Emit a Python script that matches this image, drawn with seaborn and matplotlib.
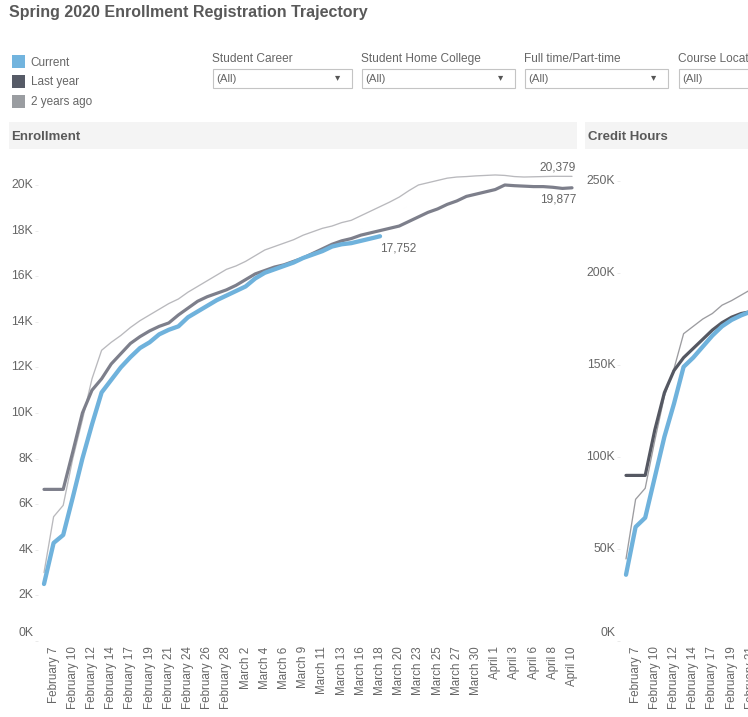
import matplotlib
matplotlib.use("Agg")
import matplotlib.pyplot as plt
from matplotlib.patches import Rectangle
from matplotlib.transforms import ScaledTranslation
import seaborn as sns
import pandas as pd

sns.set_theme(style="white")
plt.rcParams['font.family'] = ['Liberation Sans', 'DejaVu Sans']

tick_labels = ["February 7", "February 10", "February 12", "February 14", "February 17", "February 19",
               "February 21", "February 24", "February 26", "February 28", "March 2", "March 4", "March 6",
               "March 9", "March 11", "March 13", "March 16", "March 18", "March 20", "March 23", "March 25",
               "March 27", "March 30", "April 1", "April 3", "April 6", "April 8", "April 10"]

enroll_current = [2.5, 4.3, 4.65, 6.3, 8.0, 9.5, 10.9, 11.45, 12.0, 12.45, 12.85, 13.1, 13.45, 13.65, 13.8, 14.2,
                  14.45, 14.7, 14.95, 15.15, 15.35, 15.55, 15.9, 16.15, 16.3, 16.45, 16.6, 16.8, 16.95, 17.1,
                  17.3, 17.4, 17.45, 17.55, 17.65, 17.752]
enroll_last = [6.65, 6.65, 6.65, 8.3, 10.0, 11.0, 11.5, 12.15, 12.6, 13.05, 13.35, 13.6, 13.8, 13.95, 14.3, 14.6,
               14.9, 15.1, 15.25, 15.4, 15.6, 15.85, 16.1, 16.25, 16.4, 16.5, 16.65, 16.8, 17.0, 17.2, 17.4,
               17.55, 17.65, 17.8, 17.9, 18.0, 18.1, 18.2, 18.4, 18.6, 18.8, 18.95, 19.15, 19.3, 19.5, 19.6,
               19.7, 19.8, 20.0, 19.97, 19.95, 19.93, 19.93, 19.9, 19.85, 19.877]
enroll_2y = [3.0, 5.45, 5.95, 8.0, 9.7, 11.5, 12.75, 13.1, 13.4, 13.75, 14.05, 14.3, 14.55, 14.8, 15.0, 15.3,
             15.55, 15.8, 16.05, 16.3, 16.45, 16.65, 16.9, 17.15, 17.3, 17.45, 17.6, 17.8, 17.95, 18.1, 18.2,
             18.35, 18.45, 18.65, 18.85, 19.05, 19.25, 19.47, 19.75, 20.0, 20.1, 20.2, 20.3, 20.35, 20.37,
             20.4, 20.42, 20.44, 20.42, 20.37, 20.35, 20.36, 20.37, 20.38, 20.38, 20.379]

credit_current = [36, 62, 67, 89, 111, 129, 149, 154, 160, 166, 171, 174.5, 177, 179]
credit_last = [90, 90, 90, 114.7, 135, 147, 154, 159, 164, 169, 173, 176, 178, 179]
credit_2y = [44.6, 77, 83, 109, 133, 148, 167, 171, 175, 178, 182.5, 185, 188, 191]

legend_labels = ["Current", "Last year", "2 years ago"]
legend_colors = ["#72B4DE", "#565B67", "#9A9DA1"]
filter_labels = ["Student Career", "Student Home College", "Full time/Part-time", "Course Location"]
enroll_ticks = [0, 2, 4, 6, 8, 10, 12, 14, 16, 18, 20]
credit_ticks = [0, 50, 100, 150, 200, 250]

W, H = 748, 717
TXT = "#666666"
FS = 8.6
fig = plt.figure(figsize=(W / 100, H / 100), dpi=100, facecolor="white")


def fx(p):
    return p / W


def fy(p):
    return 1 - p / H


def panel(left, right, x0, ypx, current, last, two, last_col, two_col, ticks, n_labels):
    ax = fig.add_axes([fx(left), fy(641), (right - left) / W, (641 - 150) / H], facecolor="none")
    step = 9.6
    for vals, col, lw in ((two, two_col, 0.95), (last, last_col, 2.3), (current, "#6FB2DC", 3.1)):
        df = pd.DataFrame({"pos": range(len(vals)), "value": vals})
        sns.lineplot(data=df, x="pos", y="value", ax=ax, color=col, linewidth=lw, errorbar=None,
                     solid_capstyle="round", solid_joinstyle="round")
    ax.set_xlabel("")
    ax.set_ylabel("")
    for s in ax.spines.values():
        s.set_visible(False)
    pos = [1 + 2 * i for i in range(n_labels)]
    ax.set_xticks(pos)
    ax.set_xticklabels(tick_labels[:n_labels], rotation=90, fontsize=8.35, color=TXT, ha="center", va="top")
    ax.tick_params(axis="x", length=0, pad=3.8)
    ax.set_xlim((left - x0) / step, (right - x0) / step)
    ax.set_yticks(ticks)
    ax.set_yticklabels([f"{t}K" for t in ticks], fontsize=8.8, color=TXT)
    ax.tick_params(axis="y", length=2.2, width=0.6, color="#E8E8E8", pad=1.3, left=True)
    ax.set_ylim(0, 491 / ypx)
    labs = ax.get_yticklabels()
    for i, lab in enumerate(labs):
        dy = 9 if i == 0 else 1.5
        lab.set_transform(lab.get_transform() + ScaledTranslation(0, dy / 100, fig.dpi_scale_trans))
    return ax


ax1 = panel(38, 578, 44, 22.8, enroll_current, enroll_last, enroll_2y, "#7D7F8B", "#B9B9BD", enroll_ticks, 28)
ax2 = panel(620, 800, 626, 1.84, credit_current, credit_last, credit_2y, "#555862", "#9C9CA0", credit_ticks, 7)

ax1.annotate(f"{enroll_current[-1] * 1000:,.0f}", (len(enroll_current) - 1, enroll_current[-1]),
             xytext=(0, -9), textcoords="offset points", ha="left", va="center", fontsize=FS, color=TXT)
ax1.annotate(f"{enroll_2y[-1] * 1000:,.0f}", (len(enroll_2y) - 1, enroll_2y[-1]),
             xytext=(3, 6.5), textcoords="offset points", ha="right", va="center", fontsize=FS, color=TXT)
ax1.annotate(f"{enroll_last[-1] * 1000:,.0f}", (len(enroll_last) - 1, enroll_last[-1]),
             xytext=(3, -8.5), textcoords="offset points", ha="right", va="center", fontsize=FS, color=TXT)


def rect(x0, y0, x1, y1, **kw):
    fig.patches.append(Rectangle((fx(x0), fy(y1)), (x1 - x0) / W, (y1 - y0) / H,
                                 transform=fig.transFigure, **kw))


fig.text(fx(9), fy(12.5), "Spring 2020 Enrollment Registration Trajectory", fontsize=11.55, fontweight="bold",
         color="#595959", ha="left", va="center")

for i, (lab, col) in enumerate(zip(legend_labels, legend_colors)):
    rect(12, 55 + 20 * i, 25, 68 + 20 * i, facecolor=col, edgecolor="none")
    fig.text(fx(30.5), fy(62.5 + 20 * i), lab, fontsize=FS - 0.1, color=TXT, ha="left", va="center")

boxes = [(213, 352), (362, 515), (525, 668), (679, 830)]
label_x = [212, 361, 524, 678]
for lab, lx, (b0, b1) in zip(filter_labels, label_x, boxes):
    fig.text(fx(lx), fy(59), lab, fontsize=FS, color=TXT, ha="left", va="center")
    rect(b0, 69, b1, 88, facecolor="white", edgecolor="#C4C4C4", linewidth=0.8)
    fig.text(fx(b0 + 3), fy(78.5), "(All)", fontsize=FS - 0.4, color=TXT, ha="left", va="center")
    if b1 < W:
        fig.text(fx(b1 - 14), fy(77.5), "▾", fontsize=7.5, color="#555555", ha="center", va="center",
                 family="DejaVu Sans")

rect(9, 122, 577, 149, facecolor="#F4F4F4", edgecolor="none")
rect(585, 122, 760, 149, facecolor="#F4F4F4", edgecolor="none")
fig.text(fx(11.5), fy(136.5), "Enrollment", fontsize=9.5, fontweight="bold", color="#595959", ha="left", va="center")
fig.text(fx(588.5), fy(136.5), "Credit Hours", fontsize=9.5, fontweight="bold", color="#595959", ha="left", va="center")

fig.savefig("out.png", dpi=100, facecolor="white")
